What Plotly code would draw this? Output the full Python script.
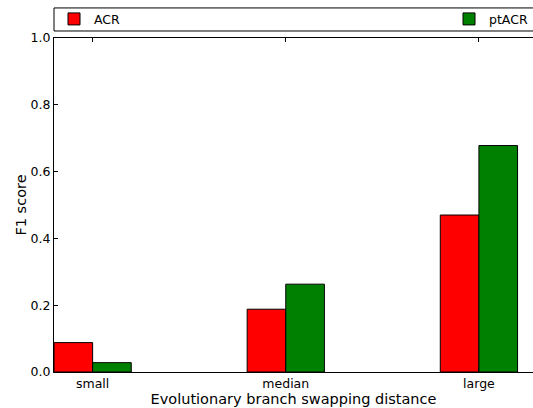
import plotly.graph_objects as go

categories = ["small", "median", "large"]
acr = [0.088, 0.188, 0.470]
ptacr = [0.028, 0.263, 0.678]
yticks = [0.0, 0.2, 0.4, 0.6, 0.8, 1.0]

xpos = list(range(len(categories)))
font = "DejaVu Sans"

fig = go.Figure()
fig.add_trace(go.Bar(x=xpos, y=acr, name="ACR", marker=dict(color="#ff0000", line=dict(color="black", width=1)),
                     legend="legend"))
fig.add_trace(go.Bar(x=xpos, y=ptacr, name="ptACR", marker=dict(color="#008000", line=dict(color="black", width=1)),
                     legend="legend2"))

fig.update_layout(
    width=533, height=408,
    margin=dict(l=54, r=0, t=38, b=36, autoexpand=False),
    paper_bgcolor="white", plot_bgcolor="white",
    barmode="group", bargap=0.6, bargroupgap=0,
    font=dict(family=font, size=12, color="black"),
    showlegend=True,
    legend=dict(x=0.0, xanchor="left", y=1.056, yanchor="middle", orientation="h",
                bgcolor="rgba(0,0,0,0)", font=dict(size=12.5)),
    legend2=dict(x=1.0, xanchor="right", y=1.056, yanchor="middle", orientation="h",
                 bgcolor="rgba(0,0,0,0)", font=dict(size=12.5)),
    shapes=[dict(type="rect", xref="paper", yref="paper", x0=0, x1=1.01, y0=1.021, y1=1.090,
                 line=dict(color="black", width=1), fillcolor="rgba(0,0,0,0)")],
)
fig.update_xaxes(range=[-0.2, 2.28], tickvals=xpos, ticktext=categories, automargin=False,
                 showline=True, linecolor="black", linewidth=1, mirror="ticks",
                 ticks="inside", ticklen=4, tickcolor="black", showgrid=False, zeroline=False,
                 tickfont=dict(size=12.5),
                 title=dict(text="Evolutionary branch swapping distance", font=dict(size=14.5), standoff=0))
fig.update_yaxes(range=[0, 1.0], tickvals=yticks, tickformat=".1f", automargin=False,
                 showline=True, linecolor="black", linewidth=1, mirror=False,
                 ticks="inside", ticklen=4, tickcolor="black", showgrid=False, zeroline=False,
                 tickfont=dict(size=12.5),
                 title=dict(text="F1 score", font=dict(size=14.5), standoff=0))

fig.write_html("out.html", config={"displayModeBar": False},
               post_script="document.body.style.margin='0';document.body.style.overflow='hidden';")
